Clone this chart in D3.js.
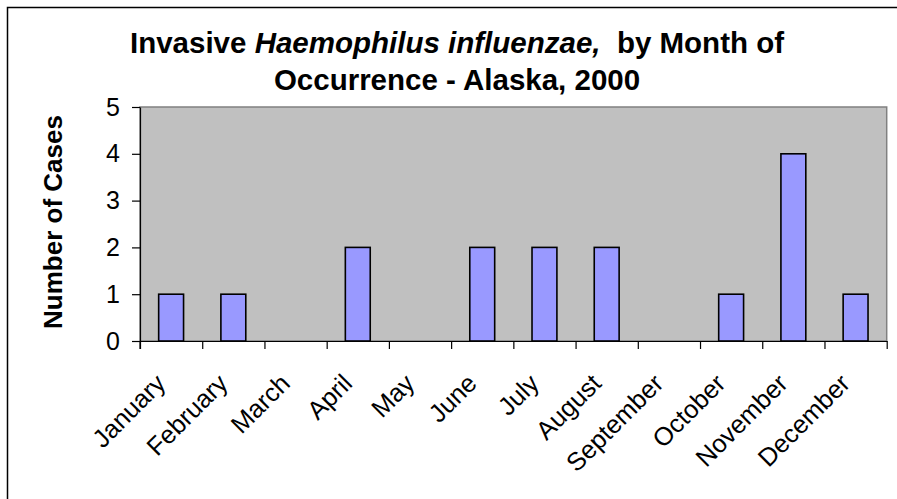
<!DOCTYPE html>
<html>
<head>
<meta charset="utf-8">
<script src="https://cdn.jsdelivr.net/npm/d3@7"></script>
<style>
  html, body { margin: 0; padding: 0; background: #fff; }
  svg { display: block; font-family: "Liberation Sans", Arial, sans-serif; }
</style>
</head>
<body>
<svg id="chart" width="897" height="499"></svg>
<script>
// data
const months = ['January', 'February', 'March', 'April', 'May', 'June',
    'July', 'August', 'September', 'October', 'November', 'December']
const cases = [1, 1, 0, 2, 0, 2, 2, 2, 0, 1, 4, 1]
const yTicks = [0, 1, 2, 3, 4, 5]

const W = 897, H = 499
const plot = { left: 140, right: 886.7, top: 107, bottom: 341 }

const svg = d3.select('#chart')

// outer chart frame (right / bottom edges fall outside the picture)
svg.append('rect')
    .attr('x', 7.5)
    .attr('y', 7.5)
    .attr('width', W + 20)
    .attr('height', H + 20)
    .style('fill', '#fff')
    .style('stroke', '#000')
    .style('stroke-width', 1.5)

let x = d3.scaleBand()
    .domain(months)
    .range([plot.left, plot.right])
    .paddingInner(0.6)
    .paddingOuter(0.3)

let xb = d3.scaleLinear()
    .domain([0, months.length])
    .range([plot.left, plot.right])

let y = d3.scaleLinear()
    .domain([0, 5])
    .range([plot.bottom, plot.top])

// plot area
svg.append('rect')
    .attr('x', plot.left)
    .attr('y', plot.top)
    .attr('width', plot.right - plot.left)
    .attr('height', plot.bottom - plot.top)
    .style('fill', '#c0c0c0')
    .style('stroke', '#808080')
    .style('stroke-width', 1.5)

// bars
svg.selectAll('rect.bar')
    .data(months)
    .enter().filter((d, i) => cases[i] > 0).append('rect')
    .attr('class', 'bar')
    .attr('x', d => x(d))
    .attr('y', d => y(cases[months.indexOf(d)]))
    .attr('width', x.bandwidth())
    .attr('height', d => y(0) - y(cases[months.indexOf(d)]))
    .style('fill', '#9999ff')
    .style('stroke', '#000')
    .style('stroke-width', 1.6)

// y axis
let yAxis = d3.axisLeft(y).tickValues(yTicks).tickFormat(d3.format('d'))
    .tickSize(8).tickPadding(12).tickSizeOuter(0)
let gy = svg.append('g')
    .attr('transform', `translate(${plot.left},0)`)
    .call(yAxis)
gy.attr('font-size', null).attr('font-family', null)
gy.select('.domain').attr('stroke', '#000').attr('stroke-width', 1.2)
gy.selectAll('.tick line').attr('stroke', '#000').attr('stroke-width', 1.2)
gy.selectAll('text')
    .style('font-size', '25px')
    .attr('fill', '#000')

// x axis: ticks at category boundaries
let xAxis = d3.axisBottom(xb).tickValues(d3.range(months.length + 1)).tickSize(8).tickFormat('').tickSizeOuter(0)
let gx = svg.append('g')
    .attr('transform', `translate(0,${plot.bottom})`)
    .call(xAxis)
gx.select('.domain').attr('stroke', '#000').attr('stroke-width', 1.2)
gx.selectAll('.tick line').attr('stroke', '#000').attr('stroke-width', 1.2)

// y axis extends down past the x axis by the tick length
svg.append('line')
    .attr('x1', plot.left).attr('x2', plot.left)
    .attr('y1', plot.bottom).attr('y2', plot.bottom + 8)
    .attr('stroke', '#000').attr('stroke-width', 1.2)

// rotated month labels
svg.selectAll('text.month')
    .data(months)
    .enter().append('text')
    .attr('class', 'month')
    .attr('transform', d => `translate(${x(d) + x.bandwidth() / 2 - 4},385) rotate(-45)`)
    .attr('text-anchor', 'end')
    .style('font-size', '25.5px')
    .text(d => d)

// y axis title
svg.append('text')
    .attr('transform', 'translate(62,222) rotate(-90)')
    .attr('text-anchor', 'middle')
    .style('font-size', '26px')
    .style('font-weight', 'bold')
    .text('Number of Cases')

// chart title
let title = svg.append('text')
    .attr('x', 457)
    .attr('y', 53)
    .attr('text-anchor', 'middle')
    .style('font-size', '29.5px')
    .style('font-weight', 'bold')
    .style('white-space', 'pre')
title.append('tspan').text('Invasive ')
title.append('tspan').style('font-style', 'italic').text('Haemophilus influenzae,')
title.append('tspan').text('  by Month of')

svg.append('text')
    .attr('x', 457)
    .attr('y', 90)
    .attr('text-anchor', 'middle')
    .style('font-size', '29.5px')
    .style('font-weight', 'bold')
    .text('Occurrence - Alaska, 2000')
</script>
</body>
</html>
